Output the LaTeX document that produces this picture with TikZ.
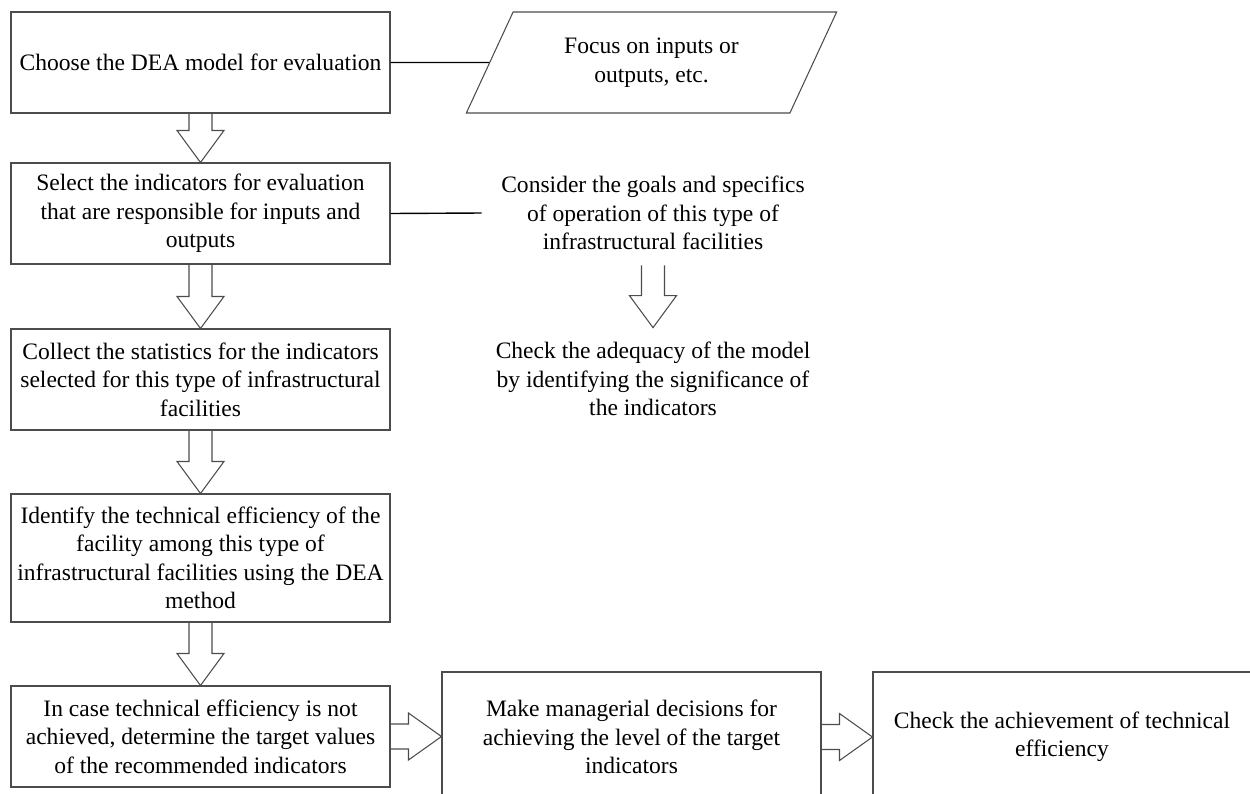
\documentclass[tikz,border=0pt]{standalone}
\usepackage{fontspec}
\setmainfont{Liberation Serif}
\usetikzlibrary{shapes.geometric, calc}

\newcommand{\downblock}[2]{%
\draw [blockline] let \p1=(#1.south), \p2=(#2.north) in
  (\x1-2.3mm,\y1) -- (\x1-2.3mm,\y2+6.4mm) -- (\x1-4.7mm,\y2+6.4mm) -- (\x1,\y2)
  -- (\x1+4.7mm,\y2+6.4mm) -- (\x1+2.3mm,\y2+6.4mm) -- (\x1+2.3mm,\y1);}
\newcommand{\rightblock}[2]{%
\draw [blockline] let \p1=(#1.east), \p2=(#2.west) in
  (\x1,\y1+2.5mm) -- (\x2-6.6mm,\y1+2.5mm) -- (\x2-6.6mm,\y1+4.7mm) -- (\x2,\y1)
  -- (\x2-6.6mm,\y1-4.7mm) -- (\x2-6.6mm,\y1-2.5mm) -- (\x1,\y1-2.5mm);}

\begin{document}
\begin{tikzpicture}[x=0.2mm, y=-0.2mm,
  every node/.style={font=\fontsize{13.4}{16.2}\selectfont},
  stepbox/.style={draw=black!70, line width=0.6pt, minimum width=75.8mm, minimum height=20.2mm, align=center, inner sep=0pt},
  plaintext/.style={align=center, inner sep=0pt, minimum width=68.4mm},
  blockline/.style={draw=black!70, line width=0.6pt},
  link/.style={draw=black, line width=0.8pt}]
\useasboundingbox (0, 0) rectangle (1250, 793);
\clip (0, 0) rectangle (1250, 793);
\node [stepbox] (choose) at (200.5, 62.5) {Choose the DEA model for evaluation};
\node [stepbox, trapezium, trapezium left angle=59, trapezium right angle=121, trapezium stretches=true, minimum width=74.2mm] (focus) at (651.5, 62.5) {Focus on inputs or\\outputs, etc.};
\node [stepbox] (select) at (200.5, 213.5) {Select the indicators for evaluation\\that are responsible for inputs and\\outputs};
\node [plaintext, minimum height=20.8mm] (goals) at (653, 213) {Consider the goals and specifics\\of operation of this type of\\infrastructural facilities};
\node [plaintext, minimum height=20.4mm] (adequacy) at (653, 379) {Check the adequacy of the model\\by identifying the significance of\\the indicators};
\node [stepbox] (collect) at (200.5, 379.5) {Collect the statistics for the indicators\\selected for this type of infrastructural\\facilities};
\node [stepbox, minimum height=25.6mm] (identify) at (200.5, 558) {Identify the technical efficiency of the\\facility among this type of\\infrastructural facilities using the DEA\\method};
\node [stepbox] (target) at (200.5, 736.5) {In case technical efficiency is not\\achieved, determine the target values\\of the recommended indicators};
\node [stepbox, minimum height=26mm] (decide) at (631.5, 737) {Make managerial decisions for\\achieving the level of the target\\indicators};
\node [stepbox, minimum width=75.6mm, minimum height=26mm] (achieve) at (1062, 737) {Check the achievement of technical\\efficiency};
\draw [link] (choose) -- (focus);
\draw [link] (select.east) -- (goals.west);
\downblock{choose}{select}
\downblock{select}{collect}
\downblock{collect}{identify}
\downblock{identify}{target}
\downblock{goals}{adequacy}
\rightblock{target}{decide}
\rightblock{decide}{achieve}
\end{tikzpicture}
\end{document}
